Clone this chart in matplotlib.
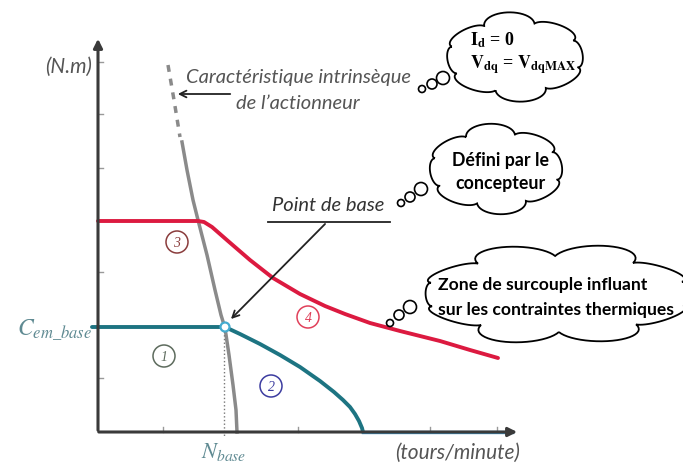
import numpy as np
import matplotlib
matplotlib.use("Agg")
import matplotlib.pyplot as plt
from matplotlib.patches import Circle

plt.rcParams['mathtext.fontset'] = 'stix'

# curves, in picture units (x to the right, y downwards)
red_x = [98, 198, 204, 212, 228, 250, 273, 300, 325, 345, 370, 400, 440, 470, 498]
red_y = [221, 221, 222, 227, 241, 260, 278, 294, 306, 314, 323, 331, 341, 350, 358]

teal_x = [92, 225, 240, 260, 280, 300, 320, 334, 343, 350, 355, 359, 362, 363]
teal_y = [327, 327, 334, 344, 355, 367, 381, 392, 400, 407, 414, 421, 428, 432]

gray_dash_x = [168, 174, 180]
gray_dash_y = [65, 100, 137]
gray_x = [182, 187, 193, 198, 207, 215, 221, 225, 229, 233, 236, 237]
gray_y = [142, 170, 200, 220, 255, 290, 315, 328, 355, 385, 410, 432]

base_pt = (225, 327)
y_ticks = [62, 114, 168, 272, 378]
x_ticks = [163, 298, 430, 497]

zones = ['1', '2', '3', '4']
zone_x = [164, 271, 177, 308]
zone_y = [356, 386, 242, 317]
zone_col = ['#5d6b5d', '#3c3ca0', '#8a3c3c', '#e0405a']


def cloud(ax, cx, cy, rx, ry, n, bulge=0.5, phase=0.3):
    ang = np.linspace(0, 2 * np.pi, n + 1) + phase
    px = cx + rx * np.cos(ang)
    py = cy + ry * np.sin(ang)
    xs, ys = [], []
    for i in range(n):
        p0 = np.array([px[i], py[i]])
        p1 = np.array([px[i + 1], py[i + 1]])
        m = (p0 + p1) / 2
        d = p1 - p0
        r = np.linalg.norm(d) / 2
        u = d / (2 * r)
        nrm = m - np.array([cx, cy])
        nrm = nrm / np.linalg.norm(nrm)
        t = np.linspace(np.pi, 0, 25)
        pts = m + np.outer(np.cos(t) * r, u) + np.outer(np.sin(t) * r * bulge, nrm)
        xs.extend(pts[:, 0])
        ys.extend(pts[:, 1])
    ax.fill(xs, ys, facecolor='white', edgecolor='black', lw=1.3, zorder=5)


def bubbles(ax, pts):
    for x, y, r in pts:
        ax.add_patch(Circle((x, y), r, facecolor='white', edgecolor='black', lw=1.2, zorder=5))


fig = plt.figure(figsize=(6.83, 4.65), dpi=100)
ax = fig.add_axes([0, 0, 1, 1])
ax.set_xlim(0, 683)
ax.set_ylim(465, 0)
ax.axis('off')

axis_col = '#3a3a3a'
txt_col = '#555555'

# axes
ax.annotate('', xy=(98, 36), xytext=(98, 433),
            arrowprops=dict(arrowstyle='-|>', color=axis_col, lw=2.2, mutation_scale=13))
ax.annotate('', xy=(520, 432), xytext=(96, 432),
            arrowprops=dict(arrowstyle='-|>', color=axis_col, lw=2.2, mutation_scale=13))
for yt in y_ticks:
    ax.plot([98, 103], [yt, yt], color='#999999', lw=1)
for xt in x_ticks:
    ax.plot([xt, xt], [432, 427], color='#999999', lw=1)

# curves
ax.plot(gray_dash_x, gray_dash_y, color='#8a8a8a', lw=2.5, ls=(0, (2, 2)))
ax.plot(gray_x, gray_y, color='#8a8a8a', lw=2.5)
ax.plot(red_x, red_y, color='#dc1a40', lw=2.8, solid_capstyle='round')
ax.plot(teal_x, teal_y, color='#1d7482', lw=2.8, solid_capstyle='round')
ax.plot([363, 512], [432, 432], color='#3d94c4', lw=2.4)
ax.plot([base_pt[0] - 1, base_pt[0] - 1], [base_pt[1] + 4, 436], color='#777777', lw=1, ls=':')
ax.add_patch(Circle(base_pt, 4.5, facecolor='white', edgecolor='#45acd0', lw=1.6, zorder=4))

# circled zone numbers
for lab, zx, zy, zc in zip(zones, zone_x, zone_y, zone_col):
    ax.add_patch(Circle((zx, zy), 11, facecolor='none', edgecolor=zc, lw=1.1))
    ax.text(zx, zy + 1, lab, color=zc, ha='center', va='center', fontsize=10,
            family='Liberation Serif', style='italic')

# labels
ax.text(92, 67, '(N.m)', color=txt_col, ha='right', va='center', fontsize=15,
        family='Lato', style='italic')
ax.text(520, 453, '(tours/minute)', color=txt_col, ha='right', va='center', fontsize=15,
        family='Lato', style='italic')
ax.text(224, 452, r'$N_{base}$', color='#5f8a92', ha='center', va='center', fontsize=16)
ax.text(92, 330, r'$C_{em\_base}$', color='#5f8a92', ha='right', va='center', fontsize=17)

ax.text(186, 78, 'Caractéristique intrinsèque', color=txt_col, ha='left', va='center',
        fontsize=14.5, family='Lato', style='italic')
ax.text(236, 103, 'de l\u2019actionneur', color=txt_col, ha='left', va='center',
        fontsize=14.5, family='Lato', style='italic')
ax.annotate('', xy=(175, 94), xytext=(233, 94),
            arrowprops=dict(arrowstyle='->', color='#222222', lw=1.3, mutation_scale=12))

ax.text(272, 205, 'Point de base', color='#333333', ha='left', va='center',
        fontsize=14.5, family='Lato', style='italic')
ax.plot([268, 390], [222, 222], color='#222222', lw=1.3)
ax.annotate('', xy=(229, 321), xytext=(327, 222),
            arrowprops=dict(arrowstyle='->', color='#222222', lw=1.3, mutation_scale=12))

# thought clouds
cloud(ax, 515, 57, 66, 35, 8)
bubbles(ax, [(422, 89, 3.5), (432, 84, 5), (443, 78, 6.5)])
ax.text(470, 40, r'$\mathbf{I_d}$ = 0', ha='left', va='center', fontsize=13,
        family='Liberation Serif', weight='bold', zorder=6)
ax.text(470, 65, r'$\mathbf{V_{dq}}$ = $\mathbf{V_{dqMAX}}$', ha='left', va='center', fontsize=13,
        family='Liberation Serif', weight='bold', zorder=6)

cloud(ax, 496, 169, 64, 36, 8)
bubbles(ax, [(401, 203, 3.5), (410, 197, 5), (421, 189, 6.5)])
ax.text(500, 160, 'Défini par le', ha='center', va='center', fontsize=12.8,
        family='Lato', weight='bold', zorder=6)
ax.text(500, 183, 'concepteur', ha='center', va='center', fontsize=12.8,
        family='Lato', weight='bold', zorder=6)

cloud(ax, 557, 294, 132, 38, 10)
bubbles(ax, [(390, 323, 3.5), (399, 315, 5), (410, 307, 6.5)])
ax.text(438, 285, 'Zone de surcouple influant', ha='left', va='center', fontsize=12.6,
        family='Lato', weight='bold', zorder=6)
ax.text(438, 310, 'sur les contraintes thermiques', ha='left', va='center', fontsize=12.6,
        family='Lato', weight='bold', zorder=6)

fig.savefig('out.png', dpi=100)
